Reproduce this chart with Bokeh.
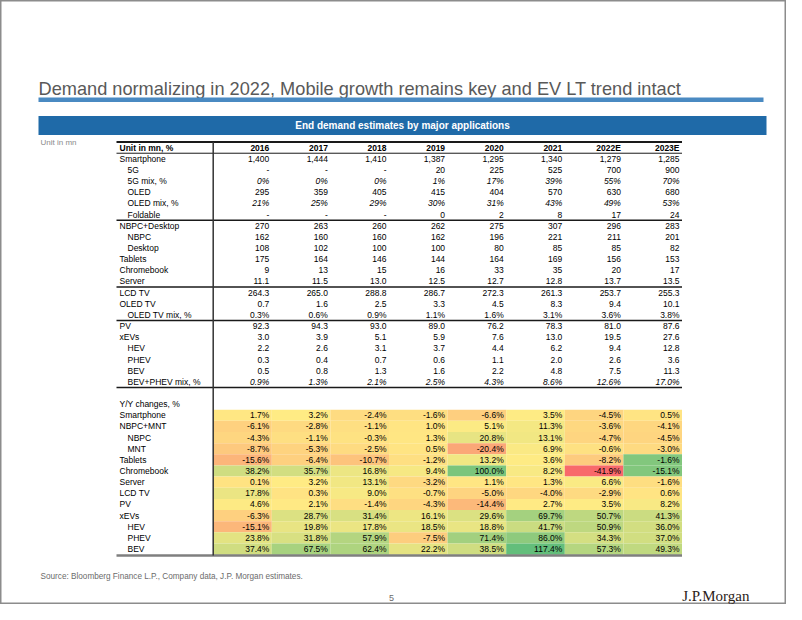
from bokeh.plotting import figure
from bokeh.models import Range1d
from bokeh.embed import file_html
from bokeh.resources import INLINE
from bokeh.core.properties import value
import numpy as np

# ---------------- data ----------------
title = "Demand normalizing in 2022, Mobile growth remains key and EV LT trend intact"
band_title = "End demand estimates by major applications"
unit_note = "Unit in mn"
header_label = "Unit in mn, %"
source_note = "Source: Bloomberg Finance L.P., Company data, J.P. Morgan estimates."
page_no = "5"
logo = "J.P.Morgan"

years = ["2016", "2017", "2018", "2019", "2020", "2021", "2022E", "2023E"]

smartphone = [1400, 1444, 1410, 1387, 1295, 1340, 1279, 1285]
g5 = [None, None, None, 20, 225, 525, 700, 900]
g5_mix = [0, 0, 0, 1, 17, 39, 55, 70]
oled = [295, 359, 405, 415, 404, 570, 630, 680]
oled_mix = [21, 25, 29, 30, 31, 43, 49, 53]
foldable = [None, None, None, 0, 2, 8, 17, 24]
nbpc_desktop = [270, 263, 260, 262, 275, 307, 296, 283]
nbpc = [162, 160, 160, 162, 196, 221, 211, 201]
desktop = [108, 102, 100, 100, 80, 85, 85, 82]
tablets = [175, 164, 146, 144, 164, 169, 156, 153]
chromebook = [9, 13, 15, 16, 33, 35, 20, 17]
server = [11.1, 11.5, 13.0, 12.5, 12.7, 12.8, 13.7, 13.5]
lcd_tv = [264.3, 265.0, 288.8, 286.7, 272.3, 261.3, 253.7, 255.3]
oled_tv = [0.7, 1.6, 2.5, 3.3, 4.5, 8.3, 9.4, 10.1]
oled_tv_mix = [0.3, 0.6, 0.9, 1.1, 1.6, 3.1, 3.6, 3.8]
pv = [92.3, 94.3, 93.0, 89.0, 76.2, 78.3, 81.0, 87.6]
xevs = [3.0, 3.9, 5.1, 5.9, 7.6, 13.0, 19.5, 27.6]
hev = [2.2, 2.6, 3.1, 3.7, 4.4, 6.2, 9.4, 12.8]
phev = [0.3, 0.4, 0.7, 0.6, 1.1, 2.0, 2.6, 3.6]
bev = [0.5, 0.8, 1.3, 1.6, 2.2, 4.8, 7.5, 11.3]
bev_phev_mix = [0.9, 1.3, 2.1, 2.5, 4.3, 8.6, 12.6, 17.0]

yoy_title = "Y/Y changes, %"
yoy_smartphone = [1.7, 3.2, -2.4, -1.6, -6.6, 3.5, -4.5, 0.5]
yoy_nbpc_mnt = [-6.1, -2.8, -1.1, 1.0, 5.1, 11.3, -3.6, -4.1]
yoy_nbpc = [-4.3, -1.1, -0.3, 1.3, 20.8, 13.1, -4.7, -4.5]
yoy_mnt = [-8.7, -5.3, -2.5, 0.5, -20.4, 6.9, -0.6, -3.0]
yoy_tablets = [-15.6, -6.4, -10.7, -1.2, 13.2, 3.6, -8.2, -1.6]
yoy_chromebook = [38.2, 35.7, 16.8, 9.4, 100.0, 8.2, -41.9, -15.1]
yoy_server = [0.1, 3.2, 13.1, -3.2, 1.1, 1.3, 6.6, -1.6]
yoy_lcd_tv = [17.8, 0.3, 9.0, -0.7, -5.0, -4.0, -2.9, 0.6]
yoy_pv = [4.6, 2.1, -1.4, -4.3, -14.4, 2.7, 3.5, 8.2]
yoy_xevs = [-6.3, 28.7, 31.4, 16.1, 29.6, 69.7, 50.7, 41.3]
yoy_hev = [-15.1, 19.8, 17.8, 18.5, 18.8, 41.7, 50.9, 36.0]
yoy_phev = [23.8, 31.8, 57.9, -7.5, 71.4, 86.0, 34.3, 37.0]
yoy_bev = [37.4, 67.5, 62.4, 22.2, 38.5, 117.4, 57.3, 49.3]
# shading in the source does not follow the value for these two cells
shade_overrides = {("Tablets", "2023E"): 95.0, ("Chromebook", "2023E"): 95.0}

# (label, indented, values, format)
main_rows = [
    ("Smartphone", False, smartphone, "int"),
    ("5G", True, g5, "int"),
    ("5G mix, %", True, g5_mix, "pct0i"),
    ("OLED", True, oled, "int"),
    ("OLED mix, %", True, oled_mix, "pct0i"),
    ("Foldable", True, foldable, "int"),
    ("NBPC+Desktop", False, nbpc_desktop, "int"),
    ("NBPC", True, nbpc, "int"),
    ("Desktop", True, desktop, "int"),
    ("Tablets", False, tablets, "int"),
    ("Chromebook", False, chromebook, "int"),
    ("Server", False, server, "dec1"),
    ("LCD TV", False, lcd_tv, "dec1"),
    ("OLED TV", False, oled_tv, "dec1"),
    ("OLED TV mix, %", True, oled_tv_mix, "pct1"),
    ("PV", False, pv, "dec1"),
    ("xEVs", False, xevs, "dec1"),
    ("HEV", True, hev, "dec1"),
    ("PHEV", True, phev, "dec1"),
    ("BEV", True, bev, "dec1"),
    ("BEV+PHEV mix, %", True, bev_phev_mix, "pct1i"),
]
yoy_rows = [
    ("Smartphone", False, yoy_smartphone),
    ("NBPC+MNT", False, yoy_nbpc_mnt),
    ("NBPC", True, yoy_nbpc),
    ("MNT", True, yoy_mnt),
    ("Tablets", False, yoy_tablets),
    ("Chromebook", False, yoy_chromebook),
    ("Server", False, yoy_server),
    ("LCD TV", False, yoy_lcd_tv),
    ("PV", False, yoy_pv),
    ("xEVs", False, yoy_xevs),
    ("HEV", True, yoy_hev),
    ("PHEV", True, yoy_phev),
    ("BEV", True, yoy_bev),
]
section_breaks_after = [5, 11, 14, 20]

# ---------------- layout (pixel units of the slide) ----------------
W, H = 786, 604
FONT = value("Liberation Sans")
ROW0 = 158.3
ROW_H = 11.15
COL0 = 212.7
COL_W = 58.6
TBL_L, TBL_R = 116.0, COL0 + COL_W * len(years)
LBL_X, IND_X = 119.0, 127.0


def row_y(i):
    return ROW0 + ROW_H * i


def col_right(c):
    return COL0 + COL_W * (c + 1) - 2.5


def fmt(v, kind):
    if v is None:
        return "-"
    if kind == "int":
        return f"{v:,.0f}"
    if kind == "dec1":
        return f"{v:.1f}"
    if kind == "pct0i":
        return f"{v:.0f}%"
    return f"{v:.1f}%"


def hexcol(rgb):
    return "#%02x%02x%02x" % tuple(int(round(c)) for c in rgb)


RED, YEL, GRN = (248, 105, 107), (255, 235, 132), (99, 190, 123)
all_yoy = np.array([v for _, _, vals in yoy_rows for v in vals])
lo, mid, hi = all_yoy.min(), np.median(all_yoy), all_yoy.max()


def heat(v):
    if v <= mid:
        t = (v - lo) / (mid - lo)
        a, b = RED, YEL
    else:
        t = (v - mid) / (hi - mid)
        a, b = YEL, GRN
    t = min(max(t, 0.0), 1.0)
    return hexcol([a[k] + (b[k] - a[k]) * t for k in range(3)])


p = figure(width=W, height=H, x_range=Range1d(0, W), y_range=Range1d(H, 0),
           output_backend="svg", toolbar_location=None,
           x_axis_location=None, y_axis_location=None, min_border=0)
p.grid.visible = False
p.outline_line_color = "#8c8c8c"
p.outline_line_width = 2
p.background_fill_color = "white"
p.border_fill_color = "white"

# title & bars
p.text(x=[38], y=[88], text=[title], text_font=FONT, text_font_size=value("18.2px"),
       text_color="#595959", text_baseline="alphabetic", text_align="left")
p.quad(left=[38], right=[763], top=[97], bottom=[101.5], fill_color="#4a8ac2", line_color=None)
p.quad(left=[38], right=[766], top=[115.5], bottom=[134.5], fill_color="#1f6aa8", line_color=None)
p.text(x=[402], y=[125.2], text=[band_title], text_font=FONT, text_font_size=value("10px"),
       text_font_style="bold", text_color="white", text_baseline="middle", text_align="center")
p.text(x=[40], y=[142], text=[unit_note], text_font=FONT, text_font_size=value("8px"),
       text_color="#8a8a8a", text_baseline="middle", text_align="left")

# heat map cells
first_yoy = len(main_rows) + 2
hx, hy, hc = [], [], []
for r, (lab, ind, vals) in enumerate(yoy_rows):
    for c, v in enumerate(vals):
        basis = shade_overrides.get((lab, years[c]), v)
        hx.append(COL0 + COL_W * (c + 0.5))
        hy.append(row_y(first_yoy + r))
        hc.append(heat(basis))
p.rect(x=hx, y=hy, width=COL_W, height=ROW_H, fill_color=hc, line_color=None)

# lines
top_y = row_y(-1) - ROW_H / 2
p.segment(x0=[TBL_L], x1=[TBL_R], y0=[top_y], y1=[top_y], line_color="#1a1a1a", line_width=2)
p.segment(x0=[TBL_L], x1=[TBL_R], y0=[row_y(-0.5)], y1=[row_y(-0.5)], line_color="#1a1a1a", line_width=1)
for b in section_breaks_after:
    yb = row_y(b + 0.5)
    p.segment(x0=[TBL_L], x1=[TBL_R], y0=[yb], y1=[yb], line_color="#1a1a1a", line_width=1.5)
bot_y = row_y(first_yoy + len(yoy_rows) - 0.5) + 0.8
p.segment(x0=[TBL_L], x1=[TBL_R], y0=[bot_y], y1=[bot_y], line_color="#7f7f7f", line_width=2.5)
p.segment(x0=[COL0], x1=[COL0], y0=[top_y], y1=[bot_y], line_color="#333333", line_width=1.5)

# header
hdr_y = row_y(-1)
p.text(x=[LBL_X], y=[hdr_y], text=[header_label], text_font=FONT, text_font_size=value("8.5px"),
       text_font_style="bold", text_color="black", text_baseline="middle", text_align="left")
p.text(x=[col_right(c) for c in range(len(years))], y=[hdr_y] * len(years), text=years,
       text_font=FONT, text_font_size=value("8.5px"), text_font_style="bold",
       text_color="black", text_baseline="middle", text_align="right")

# main rows
lx, ly, lt = [], [], []
vx, vy, vt = [], [], []
ix, iy, it = [], [], []
for i, (lab, ind, vals, kind) in enumerate(main_rows):
    lx.append(IND_X if ind else LBL_X)
    ly.append(row_y(i))
    lt.append(lab)
    for c, v in enumerate(vals):
        if kind in ("pct0i", "pct1i"):
            ix.append(col_right(c)); iy.append(row_y(i)); it.append(fmt(v, kind))
        else:
            vx.append(col_right(c)); vy.append(row_y(i)); vt.append(fmt(v, kind))

lx.append(LBL_X); ly.append(row_y(first_yoy - 1)); lt.append(yoy_title)
for r, (lab, ind, vals) in enumerate(yoy_rows):
    lx.append(IND_X if ind else LBL_X)
    ly.append(row_y(first_yoy + r))
    lt.append(lab)
    for c, v in enumerate(vals):
        vx.append(col_right(c)); vy.append(row_y(first_yoy + r)); vt.append(f"{v:.1f}%")

p.text(x=lx, y=ly, text=lt, text_font=FONT, text_font_size=value("8.5px"), text_color="black",
       text_baseline="middle", text_align="left")
p.text(x=vx, y=vy, text=vt, text_font=FONT, text_font_size=value("8.5px"), text_color="black",
       text_baseline="middle", text_align="right")
p.text(x=ix, y=iy, text=it, text_font=FONT, text_font_size=value("8.5px"), text_color="black",
       text_font_style="italic", text_baseline="middle", text_align="right")

# footer
p.text(x=[40], y=[576], text=[source_note], text_font=FONT, text_font_size=value("8.2px"),
       text_color="#6b6b6b", text_baseline="middle", text_align="left")
p.text(x=[391], y=[597], text=[page_no], text_font=FONT, text_font_size=value("9px"),
       text_color="#6b6b6b", text_baseline="middle", text_align="center")
p.text(x=[749], y=[595.5], text=[logo], text_font=value("Liberation Serif"), text_font_size=value("15px"),
       text_color="#2b2118", text_baseline="middle", text_align="right")

open("out.html", "w").write(file_html(p, INLINE))
